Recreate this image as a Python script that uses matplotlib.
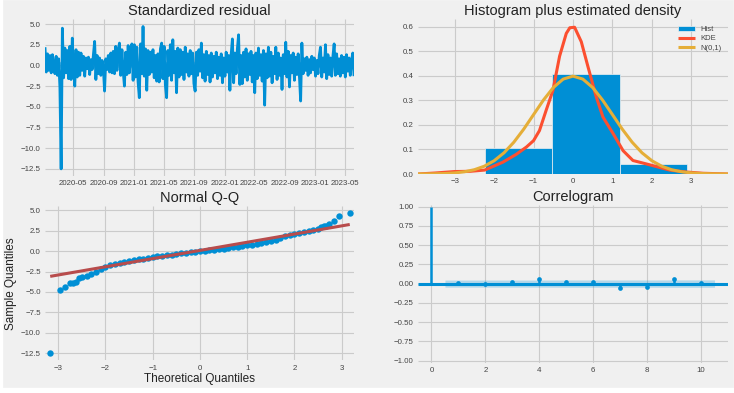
import numpy as np
import pandas as pd
import matplotlib
matplotlib.use("Agg")
import matplotlib.pyplot as plt
import matplotlib.dates as mdates
from matplotlib.patches import Rectangle

plt.style.use("fivethirtyeight")
plt.rcParams["font.family"] = ["Liberation Sans", "DejaVu Sans"]

# ---- data ----
# standardized residuals, roughly every 5 days
resid_start = "2020-01-08"
resid_end = "2023-06-07"
resid_vals = [
    2.2, -0.8, 1.4, -0.6, 1.2, -0.9, 1.3, 0.2, -1.0, 1.1,
    -1.2, 0.8, -2.6, -12.5, 4.5, -1.5, 2.1, -0.9, 1.8, -1.6,
    2.3, -1.7, 3.3, -0.5, -2.5, 1.9, -1.4, 1.6, -1.2, 1.5,
    -0.6, 1.1, -1.3, 0.9, -0.4, 1.0, -1.1, 0.7, -0.5, 1.3,
    2.9, -1.7, 1.2, -1.0, 0.9, -1.2, 0.6, -0.3, -3.1, 0.8,
    -0.5, 1.2, -0.8, 1.5, -0.9, 1.7, -1.0, 2.3, -0.6, 1.8,
    2.7, -1.2, 1.9, -0.7, -2.5, 1.6, -1.1, 2.4, -0.9, 1.5,
    2.6, -1.8, 2.5, -1.4, 2.2, -2.0, -3.9, 2.6, -1.0, 4.7,
    -1.3, 2.0, -3.0, 1.8, -1.1, 1.6, -0.8, 1.9, -1.5, 1.2,
    -1.9, 1.4, -2.0, 2.0, 2.7, -1.6, 2.3, -2.4, -3.9, 1.8,
    -1.2, 2.5, -1.8, 3.1, -0.9, 1.7, -3.3, 2.1, -1.4, 1.9,
    -1.1, 1.6, -1.7, 2.2, -0.8, 1.4, -1.3, 1.8, -1.0, 1.5,
    -2.2, -3.1, 1.6, -1.2, 1.9, -0.7, 2.7, -1.5, 1.3, -1.9,
    1.7, -1.1, 1.2, -2.0, 1.5, -1.4, 1.1, -0.9, 1.6, -1.6,
    1.0, -1.2, 1.4, -2.1, 0.9, -1.3, 1.6, -0.8, 1.2, -3.0,
    1.3, 3.2, -2.1, 1.5, -1.0, 2.0, 3.7, -2.3, 1.2, -2.2,
    1.6, -1.4, 2.0, -1.8, 1.4, -1.1, 1.7, -2.0, 1.2, -3.3,
    1.5, -1.6, 2.1, -1.2, 1.3, -1.9, 1.8, -4.8, 1.4, -1.5,
    2.2, -1.3, 1.6, -2.1, 1.1, -1.0, 2.2, -1.7, 1.5, -1.2,
    0.9, -2.9, 1.3, -1.0, 2.8, -1.4, 1.7, -2.6, 1.2, -0.9,
    1.5, -1.8, 1.0, -1.1, 1.4, -1.3, -4.3, 2.7, -1.0, 0.8,
    -0.6, 1.0, -1.2, 0.7, -0.9, 1.1, -0.5, 0.9, -1.3, 0.6,
    -1.0, 1.2, 2.2, -1.4, 0.9, -0.8, 2.5, -1.6, 1.3, -1.1,
    0.9, -1.3, 1.1, 2.6, -1.2, 1.4, -1.0, 0.8, -1.3, 1.2,
    -0.9, 1.0, -1.4, 1.3, -0.7, 0.9, -1.2, 0.6, 1.5, -1.3,
]

# histogram bins and densities
hist_edges = [-2.24, -0.53, 1.18, 2.89]
hist_heights = [0.105, 0.408, 0.042]

# kernel density estimate
kde_x = [-3.93, -3.5, -3.0, -2.6, -2.24, -1.78, -1.44, -1.18, -1.0, -0.85,
         -0.68, -0.51, -0.34, -0.17, -0.08, 0.04, 0.21, 0.38, 0.59, 0.76,
         1.02, 1.27, 1.52, 1.86, 2.12, 2.45, 2.88, 3.3, 3.93]
kde_y = [0.0, 0.004, 0.01, 0.011, 0.016, 0.048, 0.08, 0.11, 0.136, 0.177,
         0.26, 0.34, 0.48, 0.573, 0.596, 0.598, 0.539, 0.437, 0.314, 0.232,
         0.164, 0.095, 0.055, 0.041, 0.03, 0.016, 0.008, 0.003, 0.0]

# N(0,1) reference curve
norm_x = [-4.0, -3.75, -3.5, -3.25, -3.0, -2.75, -2.5, -2.25, -2.0, -1.75,
          -1.5, -1.25, -1.0, -0.75, -0.5, -0.25, 0.0, 0.25, 0.5, 0.75,
          1.0, 1.25, 1.5, 1.75, 2.0, 2.25, 2.5, 2.75, 3.0, 3.25,
          3.5, 3.75, 4.0]
norm_y = [0.0001, 0.0004, 0.0009, 0.002, 0.0044, 0.0091, 0.0175, 0.0317, 0.054, 0.0863,
          0.1295, 0.1826, 0.242, 0.3011, 0.3521, 0.3867, 0.3989, 0.3867, 0.3521, 0.3011,
          0.242, 0.1826, 0.1295, 0.0863, 0.054, 0.0317, 0.0175, 0.0091, 0.0044, 0.002,
          0.0009, 0.0004, 0.0001]

# Q-Q points
qq_theo = [-3.17, -2.97, -2.86, -2.76, -2.68, -2.62, -2.56,
           -2.5, -2.4, -2.3, -2.2, -2.1, -2.0, -1.9, -1.8, -1.7, -1.6,
           -1.5, -1.4, -1.3, -1.2, -1.1, -1.0, -0.9, -0.8, -0.7, -0.6,
           -0.5, -0.4, -0.3, -0.2, -0.1, 0.0, 0.1, 0.2, 0.3, 0.4,
           0.5, 0.6, 0.7, 0.8, 0.9, 1.0, 1.1, 1.2, 1.3, 1.4,
           1.5, 1.6, 1.7, 1.8, 1.9, 2.0, 2.1, 2.2, 2.3, 2.4, 2.5,
           2.57, 2.62, 2.67, 2.73, 2.83, 2.95, 3.17]
qq_sample = [-12.5, -4.7, -4.4, -3.95, -3.9, -3.8, -3.35,
             -3.2, -3.05, -2.85, -2.55, -2.2, -1.92, -1.75, -1.62, -1.5, -1.37,
             -1.25, -1.13, -1.02, -0.92, -0.82, -0.73, -0.65, -0.57, -0.49, -0.42,
             -0.35, -0.28, -0.22, -0.16, -0.1, -0.04, 0.02, 0.09, 0.16, 0.23,
             0.3, 0.37, 0.45, 0.53, 0.61, 0.7, 0.8, 0.9, 1.01, 1.12,
             1.24, 1.38, 1.58, 1.8, 1.96, 2.1, 2.24, 2.38, 2.5, 2.6, 2.7,
             2.9, 3.05, 3.1, 3.3, 3.65, 4.3, 4.65]
qq_line_x = [-3.17, 3.17]
qq_line_y = [-3.09, 3.25]

# autocorrelations
acf_lags = [0, 1, 2, 3, 4, 5, 6, 7, 8, 9, 10]
acf_vals = [1.0, 0.005, -0.004, 0.02, 0.058, 0.018, 0.018, -0.062, -0.04, 0.058, 0.01]
acf_band = [0.046, 0.046, 0.046, 0.046, 0.047, 0.047, 0.047, 0.047, 0.048, 0.048]

# ---- layout ----
W, H = 734, 393
BLUE = "#008fd5"


def px_rect(left, top, right, bottom):
    return [left / W, 1 - bottom / H, (right - left) / W, (bottom - top) / H]


def style(ax, title):
    ax.set_facecolor("#f0f0f0")
    ax.grid(True, color="#cbcbcb", linewidth=0.8)
    ax.tick_params(labelsize=5.7, colors="#444444", length=0, pad=3)
    for s in ax.spines.values():
        s.set_visible(False)
    ax.set_title(title, fontsize=10.5, pad=3, color="#222222")


fig = plt.figure(figsize=(W / 100, H / 100), dpi=100, facecolor="white")
fig.patches.append(Rectangle((3 / W, 1 - 387 / H), 730 / W, 387 / H,
                             transform=fig.transFigure, color="#f0f0f0", zorder=-10))

# standardized residual
ax1 = fig.add_axes(px_rect(45, 19.4, 354, 176))
dates = pd.date_range(resid_start, resid_end, periods=len(resid_vals))
ax1.plot(dates, resid_vals, color=BLUE, linewidth=2.0)
ax1.hlines(0, dates[0], dates[-1], alpha=0.5)
ax1.set_xlim(dates[0], dates[-1])
ax1.xaxis.set_major_locator(mdates.MonthLocator(bymonth=[1, 5, 9]))
ax1.xaxis.set_major_formatter(mdates.DateFormatter("%Y-%m"))
ax1.set_yticks(np.arange(-12.5, 5.1, 2.5))
style(ax1, "Standardized residual")

# histogram plus density
ax2 = fig.add_axes(px_rect(418, 19.4, 728, 174))
bars = ax2.bar(hist_edges[:-1], hist_heights, width=np.diff(hist_edges), align="edge",
               color=BLUE, edgecolor="#f0f0f0", linewidth=0.5, label="Hist")
kde_line, = ax2.plot(kde_x, kde_y, color="#fc4f30", linewidth=2.2, label="KDE")
norm_line, = ax2.plot(norm_x, norm_y, color="#e5ae38", linewidth=2.2, label="N(0,1)")
ax2.set_xlim(-3.93, 3.93)
ax2.set_ylim(0, 0.63)
ax2.set_xticks([-3, -2, -1, 0, 1, 2, 3])
ax2.set_yticks([0.0, 0.1, 0.2, 0.3, 0.4, 0.5, 0.6])
style(ax2, "Histogram plus estimated density")
leg = ax2.legend([bars, kde_line, norm_line], ["Hist", "KDE", "N(0,1)"],
                 loc="upper right", fontsize=5.5, frameon=False, handlelength=2.2,
                 borderaxespad=0.4, labelspacing=0.3)
for t in leg.get_texts():
    t.set_color("#444444")

# normal Q-Q
ax3 = fig.add_axes(px_rect(45, 206, 354, 360.4))
ax3.plot(qq_theo, qq_sample, "o", color=BLUE, markersize=4.6, markeredgewidth=0)
ax3.plot(qq_line_x, qq_line_y, color="#b84c4c", linewidth=2.2)
ax3.set_xlim(-3.28, 3.26)
ax3.set_yticks(np.arange(-12.5, 5.1, 2.5))
style(ax3, "Normal Q-Q")
ax3.set_xlabel("Theoretical Quantiles", fontsize=8.5, labelpad=1, color="#222222")
ax3.set_ylabel("Sample Quantiles", fontsize=8.5, labelpad=3, color="#222222")

# correlogram
ax4 = fig.add_axes(px_rect(418, 205, 728, 363))
band_x = [l for l in acf_lags[1:]]
band_x[0] -= 0.5
band_x[-1] += 0.5
ax4.fill_between(band_x, [-b for b in acf_band], acf_band, color=BLUE, alpha=0.25, linewidth=0)
ax4.axhline(0, color=BLUE, linewidth=2.2)
ax4.vlines(acf_lags, 0, acf_vals, color=BLUE, linewidth=1.8)
ax4.plot(acf_lags[1:], acf_vals[1:], "o", color=BLUE, markersize=3.4, markeredgewidth=0)
ax4.set_xlim(-0.5, 11.0)
ax4.set_ylim(-1.03, 1.02)
ax4.set_yticks(np.arange(-1.0, 1.01, 0.25))
ax4.set_xticks([0, 2, 4, 6, 8, 10])
style(ax4, "Correlogram")

fig.savefig("out.png", dpi=100, facecolor=fig.get_facecolor())
